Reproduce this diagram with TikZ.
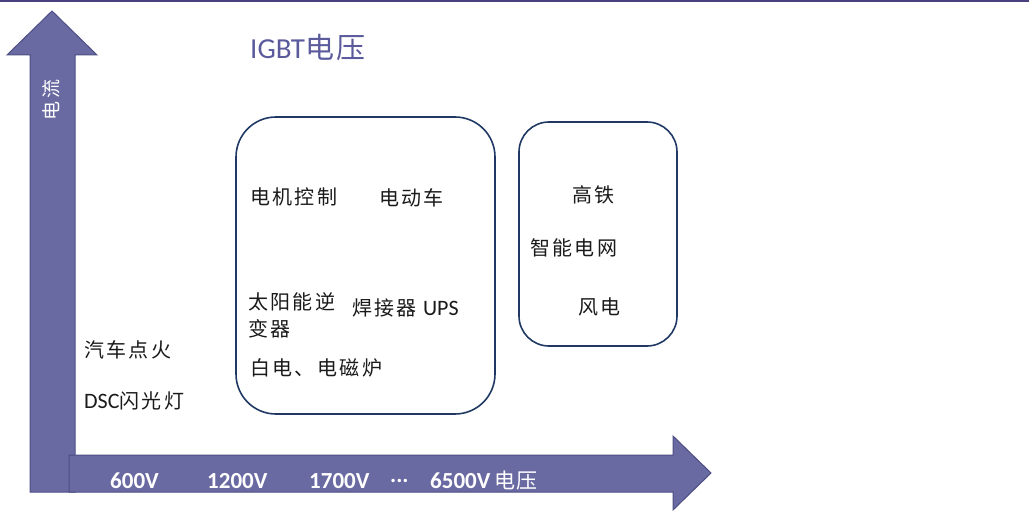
\documentclass[tikz,border=0pt]{standalone}
\usepackage{fontspec}
\setmainfont{Carlito}
\newfontfamily\cjk[LetterSpace=12]{Noto Sans CJK SC}
\newfontfamily\cjkt[LetterSpace=8]{Noto Sans CJK SC}
\definecolor{arrowfill}{HTML}{6A6AA3}
\definecolor{arrowline}{HTML}{4E4E86}
\definecolor{topline}{HTML}{4B3F7F}
\definecolor{boxline}{HTML}{1F3864}
\definecolor{titlecol}{HTML}{5A5A9C}
\definecolor{txt}{HTML}{1A1A1A}
\newcommand{\lat}[1]{{\fontsize{22}{24}\selectfont #1}}
\tikzset{
  axisarrow/.style={fill=arrowfill, draw=arrowline, line width=1pt, line join=miter},
  appbox/.style={draw=boxline, line width=1.6pt, rounded corners=#1, inner sep=0pt},
  lbl/.style={anchor=west, inner sep=0pt, text=txt, font=\fontsize{20}{24}\selectfont},
  axlbl/.style={anchor=west, inner sep=0pt, text=white, font=\bfseries\fontsize{23}{26}\selectfont},
}
\begin{document}
\begin{tikzpicture}[x=1pt,y=-1pt]
\useasboundingbox (0,0) rectangle (1029,511);
\fill[topline] (0,0) rectangle (1029,2.5);
% vertical axis arrow
\draw[axisarrow] (30,492) -- (30,55) -- (7,55) -- (52,11) -- (97,55) -- (75,55) -- (75,492) -- cycle;
% horizontal axis arrow
\draw[axisarrow] (69,455) -- (673,455) -- (673,436) -- (711,473) -- (673,510) -- (673,492) -- (69,492) -- cycle;
\node[rotate=90, inner sep=0pt, text=white, font=\cjk\fontsize{19}{22}\selectfont] (ylab) at (51,100) {电流};
% title
\node[anchor=west, inner sep=0pt, text=titlecol, font=\fontsize{29}{33}\selectfont] (title) at (250,48) {IGBT{\cjkt 电压}};
% boxes
\node[appbox=40pt, minimum width=259pt, minimum height=297pt] (b1) at (365.5,265.5) {};
\node[appbox=30pt, minimum width=158pt, minimum height=224pt] (b2) at (598,234) {};
% box 1 texts
\node[lbl] (t1) at (250,197) {\cjk 电机控制};
\node[lbl] (t2) at (379,198) {\cjk 电动车};
\node[lbl, align=left] (t3) at (248,315) {\cjk 太阳能逆\\[3pt]\cjk 变器};
\node[lbl] (t4) at (352,308) {{\cjk 焊接器}\hspace{6pt}\lat{UPS}};
\node[lbl] (t5) at (250,368) {\cjk 白电、电磁炉};
% box 2 texts
\node[lbl] (t6) at (572,195) {\cjk 高铁};
\node[lbl] (t7) at (530,248) {\cjk 智能电网};
\node[lbl] (t8) at (578,307) {\cjk 风电};
% left texts
\node[lbl] (t9) at (84,350) {\cjk 汽车点火};
\node[lbl] (t10) at (84,401) {\lat{DSC}{\cjk 闪光灯}};
% axis labels
\node[axlbl] (v1) at (110,481) {600V};
\node[axlbl] (v2) at (207,481) {1200V};
\node[axlbl] (v3) at (309,481) {1700V};
\node[axlbl] (v4) at (390,481) {...};
\node[axlbl] (v5) at (430,481) {6500V\,{\mdseries\cjkt\fontsize{21}{24}\selectfont 电压}};
\end{tikzpicture}
\end{document}
